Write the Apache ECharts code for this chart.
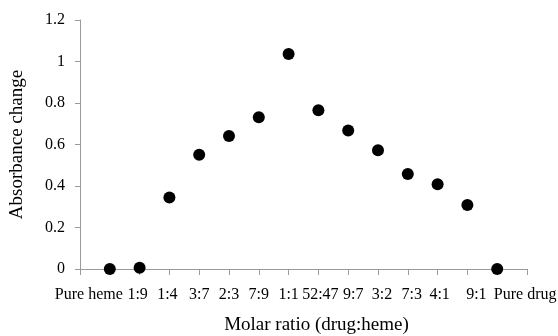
<!DOCTYPE html>
<html><head><meta charset="utf-8">
<script src="https://cdn.jsdelivr.net/npm/echarts@6/dist/echarts.min.js"></script>
<style>html,body{margin:0;padding:0;background:#fff}#c{width:558px;height:336px}</style>
</head><body><div id="c"></div>
<script>
const categories = ['Pure heme','1:9','1:4','3:7','2:3','7:9','1:1','52:47','9:7','3:2','7:3','4:1','9:1','Pure drug'];
const absorbance = [0, 0.006, 0.345, 0.551, 0.641, 0.731, 1.036, 0.765, 0.667, 0.572, 0.458, 0.408, 0.308, 0];
const yTicks = [0, 0.2, 0.4, 0.6, 0.8, 1, 1.2];

// label nudges (style only): positive shifts right
const nudge = {'Pure heme': -21, '1:9': -2, '1:4': -2, '52:47': 2, '9:7': 5, '3:2': 4, '7:3': 4, '4:1': 2, '9:1': 9, 'Pure drug': 28};
const font = 'Liberation Serif, Times New Roman, serif';
const axisCats = [' '].concat(categories).concat(['  ']);
const xData = axisCats.map(c => {
  const n = nudge[c] || 0;
  if (!n) return c;
  return {value: c, textStyle: {padding: n > 0 ? [0, 0, 0, 2 * n] : [0, -2 * n, 0, 0]}};
});

const chart = echarts.init(document.getElementById('c'), null, {renderer: 'canvas'});
chart.setOption({
  animation: false,
  backgroundColor: '#fff',
  grid: {left: 80, right: 31, top: 20, bottom: 67, containLabel: false, outerBoundsMode: 'none'},
  xAxis: {
    type: 'category', data: xData, boundaryGap: false,
    name: 'Molar ratio (drug:heme)', nameLocation: 'middle', nameGap: 47,
    nameTextStyle: {fontFamily: font, fontSize: 19, color: '#000', padding: [0, 0, 0, 26]},
    axisLine: {lineStyle: {color: '#9a9a9a', width: 1}},
    axisTick: {show: true, interval: 0, length: 6, lineStyle: {color: '#9a9a9a'}},
    axisLabel: {interval: 0, fontFamily: font, fontSize: 16, color: '#000', margin: 18},
    splitLine: {show: false}
  },
  yAxis: {
    type: 'value', min: yTicks[0], max: yTicks[yTicks.length - 1], interval: 0.2,
    name: 'Absorbance change', nameLocation: 'middle', nameGap: 53,
    nameTextStyle: {fontFamily: font, fontSize: 19, color: '#000'},
    axisLine: {show: true, lineStyle: {color: '#9a9a9a', width: 1}},
    axisTick: {show: true, length: 5, lineStyle: {color: '#9a9a9a'}},
    axisLabel: {fontFamily: font, fontSize: 16, color: '#000', margin: 15,
      formatter: v => String(Math.round(v * 10) / 10)},
    splitLine: {show: false}
  },
  series: [{
    type: 'scatter',
    data: categories.map((c, i) => [c, absorbance[i]]),
    symbol: 'circle', symbolSize: 12,
    itemStyle: {color: '#000', opacity: 1}
  }]
});
</script></body></html>
